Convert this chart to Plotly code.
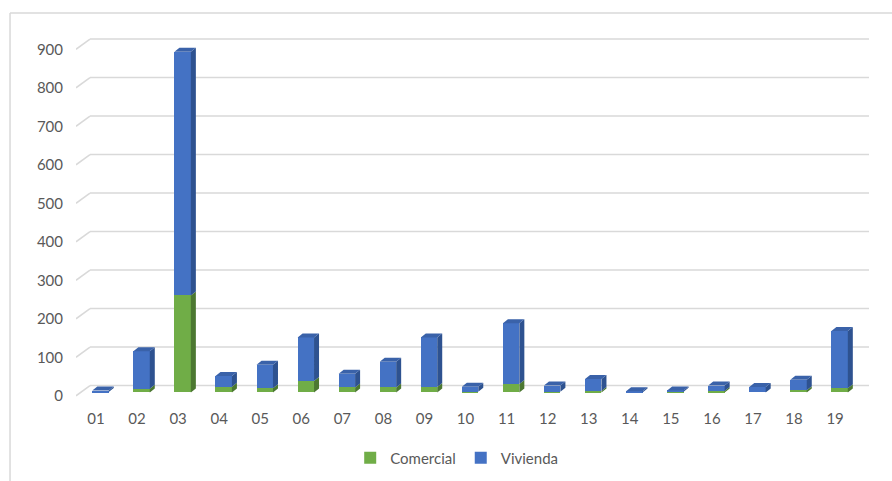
import plotly.graph_objects as go

# ---- data -------------------------------------------------------------
categorias = ["01", "02", "03", "04", "05", "06", "07", "08", "09", "10",
              "11", "12", "13", "14", "15", "16", "17", "18", "19"]
comercial = [1, 10, 252, 15, 11, 30, 13, 13, 14, 2, 22, 2, 4, 0, 2, 4, 0, 6, 11]
vivienda = [4, 97, 633, 28, 61, 113, 36, 67, 129, 13, 158, 16, 31, 3, 3, 14, 14, 27, 149]
y_ticks = [0, 100, 200, 300, 400, 500, 600, 700, 800, 900]

# ---- pseudo-3D geometry (in axis units) -------------------------------
BAR_SHIFT = 0.11      # bar fronts sit slightly right of the category label
BAR_W = 0.40          # front-face width
DX, DY = 0.122, 10.4  # bar depth: side-face width / top-face height
WALL_DY = 18          # back wall sits above the bar front plane
FRONT_DY = -8.5       # front edge of the floor (tick label plane)
X_FRONT, X_BACK, X_RIGHT = -0.487, -0.146, 18.826

BLUE, BLUE_TOP, BLUE_SIDE = "#4472C4", "#3A62A9", "#2E5290"
GREEN, GREEN_TOP, GREEN_SIDE = "#70AD47", "#609A3C", "#4C7831"
GRID = "#D9D9D9"
TXT = "#595959"
FONT = "Lato"

xs = [i + BAR_SHIFT for i in range(len(categorias))]

fig = go.Figure()
fig.add_trace(go.Bar(name="Comercial", x=xs, y=comercial, width=BAR_W,
                     marker=dict(color=GREEN, line=dict(width=0))))
fig.add_trace(go.Bar(name="Vivienda", x=xs, y=vivienda, width=BAR_W,
                     marker=dict(color=BLUE, line=dict(width=0))))


def side_polys(bases, heights):
    px, py = [], []
    for x, b, h in zip(xs, bases, heights):
        if h <= 0:
            continue
        xr = x + BAR_W / 2
        px += [xr, xr + DX, xr + DX, xr, xr, None]
        py += [b, b + DY, b + h + DY, b + h, b, None]
    return px, py


def top_polys(tops, mask):
    px, py = [], []
    for x, t, m in zip(xs, tops, mask):
        if not m:
            continue
        xl, xr = x - BAR_W / 2, x + BAR_W / 2
        px += [xl, xl + DX, xr + DX, xr, xl, None]
        py += [t, t + DY, t + DY, t, t, None]
    return px, py


totals = [c + v for c, v in zip(comercial, vivienda)]
zeros = [0] * len(categorias)

faces = [
    (side_polys(zeros, comercial), GREEN_SIDE),
    (side_polys(comercial, vivienda), BLUE_SIDE),
    (top_polys(comercial, [v == 0 and c > 0 for c, v in zip(comercial, vivienda)]), GREEN_TOP),
    (top_polys(totals, [v > 0 for v in vivienda]), BLUE_TOP),
]
for (px, py), col in faces:
    fig.add_trace(go.Scatter(x=px, y=py, mode="lines", fill="toself",
                             fillcolor=col, line=dict(width=0, color=col),
                             hoverinfo="skip", showlegend=False))

# ---- back-wall gridlines with perspective floor edge ------------------
shapes = []
for v in y_ticks:
    shapes.append(dict(type="line", xref="x", yref="y", layer="below",
                       x0=X_BACK, y0=v + WALL_DY, x1=X_RIGHT, y1=v + WALL_DY,
                       line=dict(color=GRID, width=1.5)))
    shapes.append(dict(type="line", xref="x", yref="y", layer="below",
                       x0=X_FRONT, y0=v + FRONT_DY, x1=X_BACK, y1=v + WALL_DY,
                       line=dict(color=GRID, width=1.5)))

# chart frame (left and top edges)
shapes.append(dict(type="line", xref="paper", yref="paper",
                   x0=-0.0832, y0=1.046, x1=1.05, y1=1.046,
                   line=dict(color=GRID, width=1.5)))
shapes.append(dict(type="line", xref="paper", yref="paper",
                   x0=-0.0832, y0=1.046, x1=-0.0832, y1=-0.25,
                   line=dict(color=GRID, width=1.5)))

fig.update_layout(
    width=892, height=481,
    margin=dict(l=76, r=23, t=30, b=81, autoexpand=False),
    paper_bgcolor="white", plot_bgcolor="white",
    barmode="relative", bargap=0,
    font=dict(family=FONT, size=15, color=TXT),
    shapes=shapes,
    showlegend=True,
    legend=dict(orientation="h", xref="container", yref="container",
                x=0.512, xanchor="center", y=0.048, yanchor="middle",
                font=dict(family=FONT, size=15, color=TXT),
                itemwidth=30, tracegroupgap=0),
    xaxis=dict(range=[X_FRONT, X_RIGHT], tickmode="array",
               tickvals=list(range(len(categorias))), ticktext=categorias,
               showgrid=False, zeroline=False, showline=False, automargin=False,
               ticks="", ticklabelstandoff=8,
               tickfont=dict(family=FONT, size=15, color=TXT)),
    yaxis=dict(range=[-19.5, 941.6], tickmode="array",
               tickvals=[v + FRONT_DY for v in y_ticks],
               ticktext=[str(v) for v in y_ticks],
               showgrid=False, zeroline=False, showline=False, automargin=False,
               ticks="", ticklabelstandoff=12,
               tickfont=dict(family=FONT, size=15, color=TXT)),
)

fig.write_html("out.html")
